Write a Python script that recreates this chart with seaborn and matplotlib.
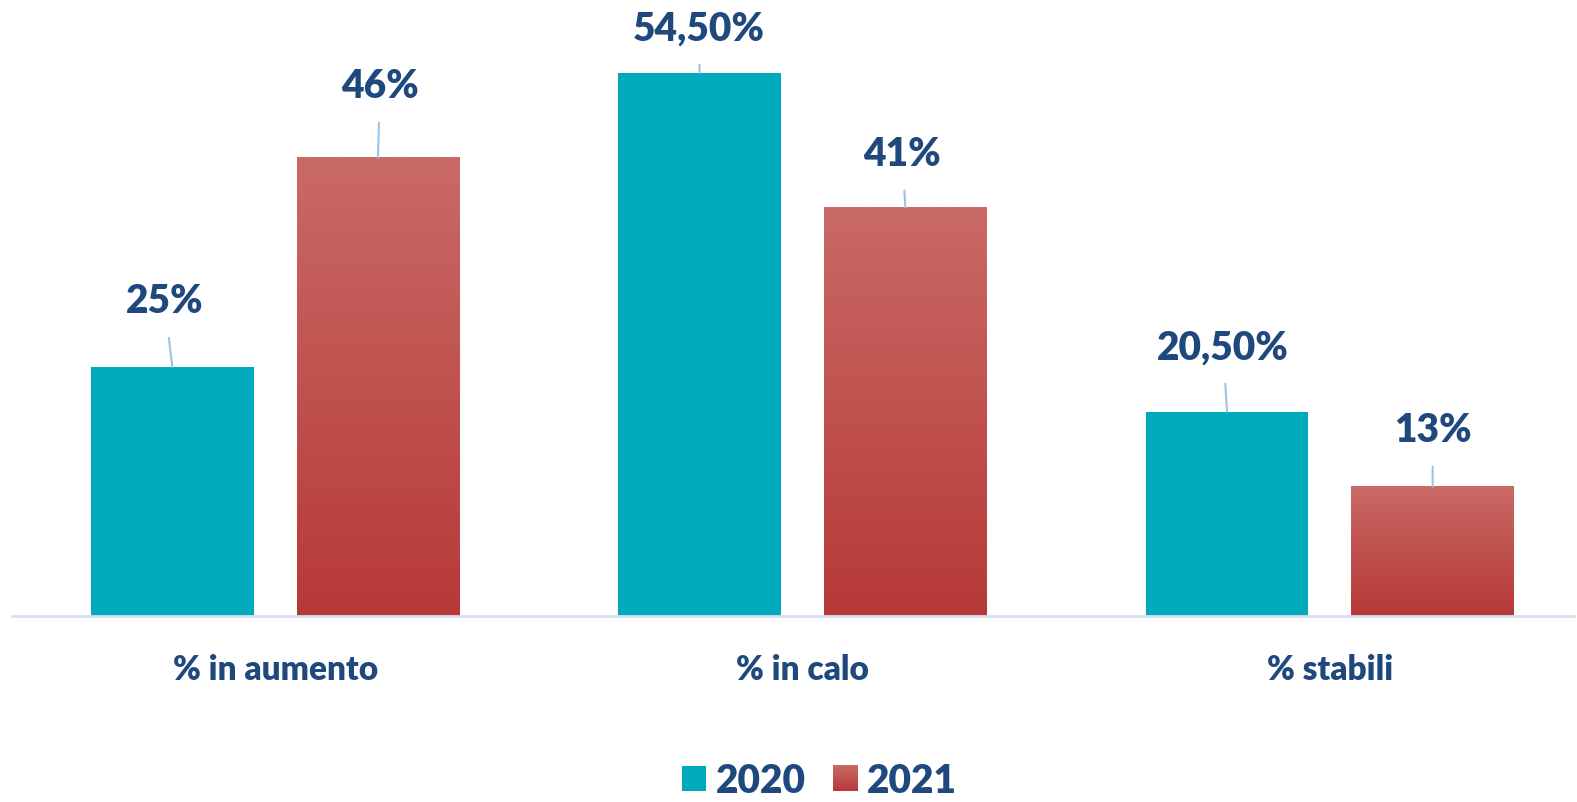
#############################################
########## 1. Import Libraries
#############################################
import numpy as np
import pandas as pd
import matplotlib
matplotlib.use("Agg")
import matplotlib.pyplot as plt
import matplotlib.colors as mcolors
from matplotlib.patches import Patch
from matplotlib.legend_handler import HandlerPatch
import seaborn as sns

#############################################
########## 2. Data
#############################################
categories = ["% in aumento", "% in calo", "% stabili"]
years = ["2020", "2021"]
values_2020 = [25.0, 54.5, 20.5]
values_2021 = [46.0, 41.0, 13.0]
labels_2020 = ["25%", "54,50%", "20,50%"]
labels_2021 = ["46%", "41%", "13%"]

# label offsets above bar top (pixels), as in the original layout
offsets_2020 = [(-8, 66), (-1, 45), (-4, 65)]
offsets_2021 = [(2, 72), (-3, 54), (0, 57)]

#############################################
########## 3. Plot
#############################################
sns.set_theme(style="white")
plt.rcParams["font.family"] = ["Lato", "DejaVu Sans"]

text_color = "#1F497D"
teal = "#00A9BC"
red_top = "#C96A66"
red_bottom = "#B73937"
leader_color = "#9DC3E6"

cmap = mcolors.LinearSegmentedColormap.from_list("redgrad", [red_bottom, red_top])
grad = np.linspace(0, 1, 256).reshape(-1, 1)

plot_df = pd.DataFrame({
    "category": categories * 2,
    "year": [years[0]] * 3 + [years[1]] * 3,
    "value": values_2020 + values_2021,
})

fig = plt.figure(figsize=(15.77, 8.03), dpi=100)
ax = fig.add_axes([12 / 1577, 1 - 617 / 803, 1562 / 1577, 617 / 803])

sns.barplot(
    data=plot_df, x="category", y="value", hue="year",
    palette={years[0]: teal, years[1]: "#C0504D"},
    width=0.78, gap=0.21, legend=False, ax=ax, saturation=1,
)

# Gradient fill on the 2021 bars
bars = ax.patches
bars_2020 = bars[:3]
bars_2021 = bars[3:6]
for bar in bars_2021:
    x0, w, h = bar.get_x(), bar.get_width(), bar.get_height()
    bar.set_facecolor("none")
    bar.set_edgecolor("none")
    img = ax.imshow(grad, extent=[x0, x0 + w, 0, h], origin="lower",
                    cmap=cmap, aspect="auto", zorder=2)
    img.set_clip_path(bar)
for bar in bars_2020:
    bar.set_edgecolor("none")

ax.set_xlim(-0.499, 2.463)
ax.set_ylim(0, 61.9)

# Value labels with leader lines
for bar_group, labels, offsets in [(bars_2020, labels_2020, offsets_2020),
                                   (bars_2021, labels_2021, offsets_2021)]:
    for bar, lab, off in zip(bar_group, labels, offsets):
        cx = bar.get_x() + bar.get_width() / 2
        ax.annotate(
            lab, xy=(cx, bar.get_height()), xytext=off, textcoords="offset pixels",
            ha="center", va="center", fontsize=28, fontweight="heavy", color=text_color,
            arrowprops=dict(arrowstyle="-", color=leader_color, lw=1.5,
                            shrinkA=11, shrinkB=0),
            zorder=5,
        )

# Axes styling
for side in ["left", "right", "top"]:
    ax.spines[side].set_visible(False)
ax.spines["bottom"].set_color("#D6E0EE")
ax.spines["bottom"].set_linewidth(2)
ax.set_yticks([])
ax.set_xlabel("")
ax.set_ylabel("")
ax.tick_params(axis="x", length=0, pad=27)
for t in ax.get_xticklabels():
    t.set_fontsize(24)
    t.set_fontweight("heavy")
    t.set_color(text_color)


# Legend (gradient swatch for 2021)
class GradientHandler(HandlerPatch):
    def create_artists(self, legend, orig_handle, xdescent, ydescent,
                       width, height, fontsize, trans):
        from matplotlib.image import BboxImage
        from matplotlib.transforms import Bbox, TransformedBbox
        bb = TransformedBbox(Bbox.from_bounds(-xdescent, -ydescent, width, height), trans)
        im = BboxImage(bb, cmap=cmap, origin="lower")
        im.set_data(grad)
        return [im]


handles = [Patch(facecolor=teal, edgecolor="none"),
           Patch(facecolor="#C0504D", edgecolor="none")]
fig.legend(handles, years, loc="center", bbox_to_anchor=(819 / 1577, 1 - 782 / 803),
           ncol=2, frameon=False, handlelength=0.62, handleheight=0.62,
           handletextpad=0.25, columnspacing=0.7,
           handler_map={handles[1]: GradientHandler()},
           prop={"size": 28, "weight": "heavy"}, labelcolor=text_color)

plt.savefig("out.png", dpi=100)
